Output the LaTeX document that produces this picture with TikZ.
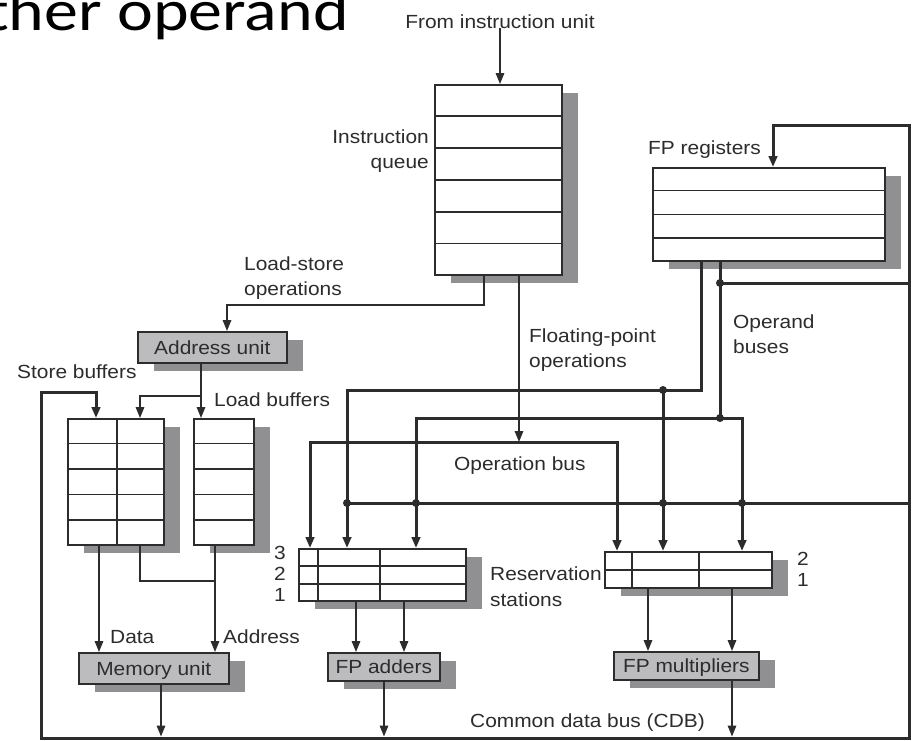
\documentclass[tikz,border=0pt]{standalone}
\usepackage{fontspec}
\setmainfont[FakeStretch=1.1]{Liberation Sans}
\newfontfamily\titlefont[FakeStretch=1.17]{Carlito}
\usetikzlibrary{arrows.meta,calc,shadows}
\definecolor{ink}{HTML}{2C2C2C}
\definecolor{unitfill}{HTML}{BCBCBE}
\definecolor{shade}{HTML}{909092}

\begin{document}
\begin{tikzpicture}[x=1pt,y=-1pt,
  font=\fontsize{19}{25}\selectfont,
  thin/.style={draw=ink,line width=1.6pt},
  bus/.style={draw=ink,line width=3pt},
  tip/.style={-{Triangle[length=11pt,width=8.5pt]}},
  tips/.style={{Triangle[length=11pt,width=8.5pt]}-{Triangle[length=11pt,width=8.5pt]}},
  shbox/.style={draw=ink,line width=1.6pt,inner sep=0,anchor=north west,
    drop shadow={shadow xshift=16pt,shadow yshift=-8pt,fill=shade,opacity=1}},
  table/.style={shbox,fill=white},
  unit/.style={shbox,fill=unitfill,text=ink,text height=13.6pt,text depth=0pt},
  lbl/.style={inner sep=0,text=ink,anchor=base west},
  junction/.style={circle,fill=ink,inner sep=0,minimum size=8pt}
]
\fill[white] (0,0) rectangle (913,740);
\useasboundingbox (0,0) rectangle (913,740);

% slide heading, cut by the page edge
\node[inner sep=0,anchor=base west,font=\titlefont\fontsize{58}{60}\selectfont,text=black] (title) at (-14,30) {ther operand};

% ---------- storage blocks ----------
\node[table,minimum width=127pt,minimum height=190pt] (Q) at (434,84) {};
\foreach \i in {1,...,5}
  \draw[thin] ($(Q.north west)!\i/6!(Q.south west)$) -- ($(Q.north east)!\i/6!(Q.south east)$);

\node[table,minimum width=232pt,minimum height=93pt] (R) at (652,167) {};
\foreach \i in {1,2,3}
  \draw[thin] ($(R.north west)!\i/4!(R.south west)$) -- ($(R.north east)!\i/4!(R.south east)$);

\node[table,minimum width=96pt,minimum height=126pt] (SB) at (67,418) {};
\foreach \i in {1,...,4}
  \draw[thin] ($(SB.north west)!\i/5!(SB.south west)$) -- ($(SB.north east)!\i/5!(SB.south east)$);
\draw[thin] ($(SB.north west)+(50,0)$) -- ($(SB.south west)+(50,0)$);

\node[table,minimum width=60pt,minimum height=126pt] (LB) at (193,418) {};
\foreach \i in {1,...,4}
  \draw[thin] ($(LB.north west)!\i/5!(LB.south west)$) -- ($(LB.north east)!\i/5!(LB.south east)$);

\node[table,minimum width=167pt,minimum height=52pt] (RSA) at (298,548) {};
\foreach \i in {1,2}
  \draw[thin] ($(RSA.north west)!\i/3!(RSA.south west)$) -- ($(RSA.north east)!\i/3!(RSA.south east)$);
\draw[thin] ($(RSA.north west)+(20,0)$) -- ($(RSA.south west)+(20,0)$);
\draw[thin] ($(RSA.north west)+(82,0)$) -- ($(RSA.south west)+(82,0)$);

\node[table,minimum width=167pt,minimum height=36pt] (RSM) at (604,551) {};
\draw[thin] ($(RSM.north west)!.5!(RSM.south west)$) -- ($(RSM.north east)!.5!(RSM.south east)$);
\draw[thin] ($(RSM.north west)+(28,0)$) -- ($(RSM.south west)+(28,0)$);
\draw[thin] ($(RSM.north west)+(95,0)$) -- ($(RSM.south west)+(95,0)$);

% ---------- functional units ----------
\node[unit,minimum width=149pt,minimum height=31pt] (AU) at (137,331) {Address unit};
\node[unit,minimum width=150pt,minimum height=31pt] (MU) at (78,652) {Memory unit};
\node[unit,minimum width=112pt,minimum height=28pt] (FA) at (327,652) {FP adders};
\node[unit,minimum width=145pt,minimum height=28pt] (FM) at (613,651) {FP multipliers};

% ---------- labels ----------
\node[lbl,anchor=base] (src) at (500,28) {From instruction unit};
\node[lbl,anchor=base east] (iq1) at (429,143) {Instruction};
\node[lbl,anchor=base east] (iq2) at (429,168) {queue};
\node[lbl] (ls1) at (244,270) {Load-store};
\node[lbl] (ls2) at (244,295) {operations};
\node[lbl] (fp1) at (529,342) {Floating-point};
\node[lbl] (fp2) at (529,367) {operations};
\node[lbl] (op1) at (733,328) {Operand};
\node[lbl] (op2) at (733,353) {buses};
\node[lbl] (fpr) at (648,154) {FP registers};
\node[lbl] (sbl) at (17,378) {Store buffers};
\node[lbl] (lbl) at (214,406) {Load buffers};
\node[lbl] (obl) at (454,470) {Operation bus};
\node[lbl,anchor=base] (a3) at (280,559) {3};
\node[lbl,anchor=base] (a2) at (280,580) {2};
\node[lbl,anchor=base] (a1) at (280,601) {1};
\node[lbl,anchor=base] (m2) at (803,565) {2};
\node[lbl,anchor=base] (m1) at (803,586) {1};
\node[lbl] (rs1) at (490,580) {Reservation};
\node[lbl] (rs2) at (490,606) {stations};
\node[lbl] (dat) at (110,643) {Data};
\node[lbl] (adr) at (223,643) {Address};
\node[lbl] (cdb) at (470,727) {Common data bus (CDB)};

% ---------- bus corners and taps ----------
\coordinate (lsA) at (484,305);
\coordinate (lsB) at (227,305);
\coordinate (fpo) at (519,442);
\coordinate (obL) at (310,442);
\coordinate (obR) at (617,442);
\coordinate (oa)  at (701,390);
\coordinate (oaL) at (347,390);
\coordinate (oaJ) at (663,390);
\coordinate (ob)  at (720,418);
\coordinate (obbL) at (416,418);
\coordinate (obbR) at (742,418);
\coordinate (cdbL) at (41,738);
\coordinate (cdbR) at (909,738);
\coordinate (cdbT) at (909,125);
\coordinate (regIn) at (773,125);
\coordinate (sbC) at (41,392);
\coordinate (sbIn) at (96,392);
\coordinate (rsC) at (909,503);
\coordinate (regC) at (909,283);
\coordinate (auJ) at (201,396);
\coordinate (sbJ) at (140,396);
\coordinate (sbD) at (99,600);
\coordinate (sbA) at (140,581);
\coordinate (lbA) at (215,581);
\coordinate (muO) at (161,700);
\coordinate (fa1) at (356,620);
\coordinate (fa2) at (404,620);
\coordinate (faO) at (384,700);
\coordinate (fm1) at (648,620);
\coordinate (fm2) at (732,620);
\coordinate (fmO) at (732,700);

% ---------- instruction flow ----------
\draw[thin,tip] (src.south) -- (src.south |- Q.north);
\draw[thin,tip] (Q.south -| lsA) |- (lsB) -- (lsB |- AU.north);
\draw[thin,tip] (Q.south -| fpo) -- (fpo);

% ---------- operation and operand buses ----------
\draw[bus,tips] (obL |- RSA.north) -- (obL) -- (obR) -- (obR |- RSM.north);
\draw[bus,tip] (R.south -| oa) -- (oa) -- (oaL) -- (oaL |- RSA.north);
\draw[bus,tip] (oaJ) -- (oaJ |- RSM.north);
\draw[bus] (R.south -| ob) -- (ob);
\draw[bus,tips] (obbL |- RSA.north) -- (obbL) -- (obbR) -- (obbR |- RSM.north);

% ---------- common data bus ----------
\draw[bus,tips] (sbIn |- SB.north) -- (sbIn) -- (sbC) -- (cdbL) -- (cdbR) -- (cdbT) -- (regIn) -- (regIn |- R.north);
\draw[bus] (oaL |- rsC) -- (rsC);
\draw[bus] (ob |- regC) -- (regC);

\node[junction] at (oaJ) {};
\node[junction] at (ob) {};
\node[junction] at (ob |- regC) {};
\node[junction] at (oaL |- rsC) {};
\node[junction] at (obbL |- rsC) {};
\node[junction] at (oaJ |- rsC) {};
\node[junction] at (obbR |- rsC) {};

% ---------- load / store path ----------
\draw[thin,tip] (AU.south -| auJ) -- (auJ |- LB.north);
\draw[thin,tip] (auJ) -- (sbJ) -- (sbJ |- SB.north);
\draw[thin,tip] (SB.south -| sbD) -- (sbD |- MU.north);
\draw[thin] (SB.south -| sbA) |- (lbA);
\draw[thin,tip] (LB.south -| lbA) -- (lbA |- MU.north);
\draw[thin,tip,shorten >=1.5pt] (MU.south -| muO) -- (muO |- cdbL);

% ---------- reservation stations to units, units to CDB ----------
\draw[thin,tip] (RSA.south -| fa1) -- (fa1 |- FA.north);
\draw[thin,tip] (RSA.south -| fa2) -- (fa2 |- FA.north);
\draw[thin,tip,shorten >=1.5pt] (FA.south -| faO) -- (faO |- cdbL);
\draw[thin,tip] (RSM.south -| fm1) -- (fm1 |- FM.north);
\draw[thin,tip] (RSM.south -| fm2) -- (fm2 |- FM.north);
\draw[thin,tip,shorten >=1.5pt] (FM.south -| fmO) -- (fmO |- cdbL);
\end{tikzpicture}
\end{document}
